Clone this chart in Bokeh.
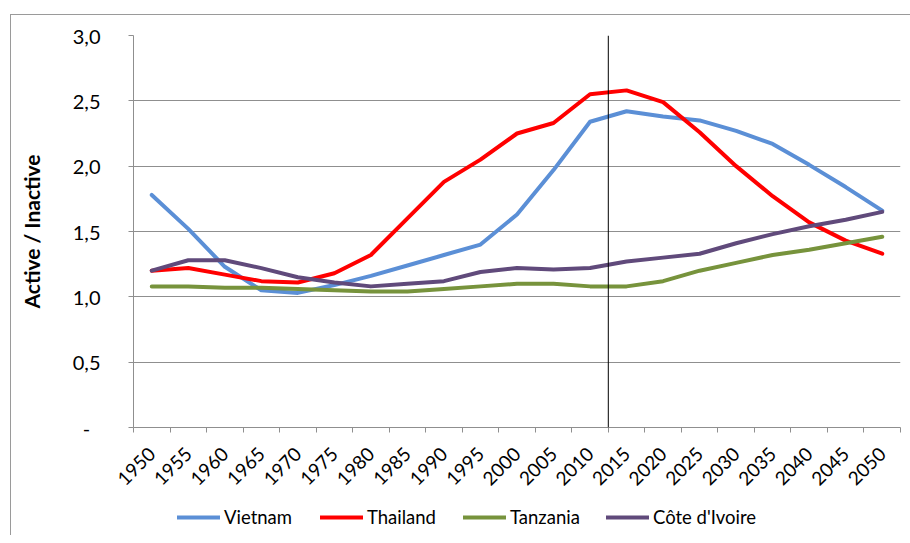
import math
from bokeh.plotting import figure
from bokeh.layouts import column
from bokeh.models import (Range1d, FixedTicker, CustomJSTickFormatter, Span,
                          Legend, LegendItem)
from bokeh.embed import file_html
from bokeh.resources import INLINE

years = [1950, 1955, 1960, 1965, 1970, 1975, 1980, 1985, 1990, 1995, 2000,
         2005, 2010, 2015, 2020, 2025, 2030, 2035, 2040, 2045, 2050]
vietnam = [1.78, 1.52, 1.23, 1.05, 1.03, 1.09, 1.16, 1.24, 1.32, 1.40, 1.63,
           1.97, 2.34, 2.42, 2.38, 2.35, 2.27, 2.17, 2.01, 1.84, 1.66]
thailand = [1.20, 1.22, 1.17, 1.12, 1.11, 1.18, 1.32, 1.60, 1.88, 2.05, 2.25,
            2.33, 2.55, 2.58, 2.49, 2.26, 2.00, 1.77, 1.57, 1.43, 1.33]
tanzania = [1.08, 1.08, 1.07, 1.07, 1.06, 1.05, 1.04, 1.04, 1.06, 1.08, 1.10,
            1.10, 1.08, 1.08, 1.12, 1.20, 1.26, 1.32, 1.36, 1.41, 1.46]
cote = [1.20, 1.28, 1.28, 1.22, 1.15, 1.11, 1.08, 1.10, 1.12, 1.19, 1.22,
        1.21, 1.22, 1.27, 1.30, 1.33, 1.41, 1.48, 1.54, 1.59, 1.65]
series_names = ["Vietnam", "Thailand", "Tanzania", "Côte d'Ivoire"]
series_colors = ["#5B8FD6", "#FF0000", "#77933C", "#604A7B"]
y_ticks = [0.0, 0.5, 1.0, 1.5, 2.0, 2.5, 3.0]
marker_year = 2012.5

FONT = "Lato"
GRAY = "#8f8f8f"
BORDER = "1px solid #9a9a9a"

all_series = [vietnam, thailand, tanzania, cote]

half = (years[1] - years[0]) / 2
p = figure(width=899, height=480, frame_width=766, frame_height=391,
           output_backend="svg", toolbar_location=None,
           x_range=Range1d(years[0] - half, years[-1] + half),
           y_range=Range1d(y_ticks[0], y_ticks[-1]),
           min_border_left=122, min_border_right=11, min_border_top=20,
           min_border_bottom=69)
p.styles = {"margin-left": "10px", "margin-top": "14px",
            "border-left": BORDER, "border-top": BORDER}
p.outline_line_color = None
p.background_fill_color = "white"
p.border_fill_color = "white"

for vals, col in zip(all_series, series_colors):
    p.line(years, vals, line_color=col, line_width=4, line_join="round",
           line_cap="round")

# x axis
xa = p.xaxis[0]
xa.ticker = FixedTicker(ticks=years,
                        minor_ticks=[y - half for y in years] + [years[-1] + half])
xa.major_tick_out = 0
xa.major_tick_in = 0
xa.minor_tick_out = 5
xa.minor_tick_in = 0
xa.minor_tick_line_color = GRAY
xa.axis_line_color = GRAY
xa.major_label_orientation = math.pi / 4
xa.major_label_standoff = 18
xa.major_label_text_font = FONT
xa.major_label_text_font_size = "19px"
xa.major_label_text_color = "#000000"
p.xgrid.visible = False

# y axis
ya = p.yaxis[0]
ya.ticker = FixedTicker(ticks=y_ticks, minor_ticks=[])
ya.formatter = CustomJSTickFormatter(
    code="return tick == 0 ? '-\\u00a0\\u00a0' : tick.toFixed(1).replace('.', ',');")
ya.major_tick_out = 5
ya.major_tick_in = 0
ya.major_tick_line_color = GRAY
ya.axis_line_color = GRAY
ya.major_label_standoff = 28
ya.major_label_text_font = FONT
ya.major_label_text_font_size = "20px"
ya.major_label_text_color = "#000000"
ya.axis_label = "Active / Inactive"
ya.axis_label_text_font = FONT
ya.axis_label_text_font_style = "bold"
ya.axis_label_text_font_size = "21px"
ya.axis_label_text_color = "#000000"
ya.axis_label_standoff = 26
p.ygrid.ticker = FixedTicker(ticks=y_ticks)
p.ygrid.grid_line_color = GRAY
p.ygrid.grid_line_width = 1

p.add_layout(Span(location=marker_year, dimension="height",
                  line_color="black", line_width=1))

# legend strip (separate figure below the chart); its series lie outside
# its ranges, so only their legend swatches show
lg = figure(width=899, height=40, frame_width=766, frame_height=40,
            output_backend="svg", toolbar_location=None,
            x_range=Range1d(0, 1), y_range=Range1d(0, 1),
            x_axis_location=None, y_axis_location=None,
            min_border_left=122, min_border_right=11, min_border_top=0,
            min_border_bottom=0)
lg.styles = {"margin-left": "10px", "border-left": BORDER}
lg.outline_line_color = None
lg.xgrid.visible = False
lg.ygrid.visible = False
proxies = [lg.line(years, vals, line_color=col, line_width=4, line_cap="round")
           for vals, col in zip(all_series, series_colors)]

legend = Legend(items=[LegendItem(label=n, renderers=[r])
                       for n, r in zip(series_names, proxies)],
                orientation="horizontal", location=(44, 7),
                background_fill_alpha=0, border_line_alpha=0,
                padding=0, margin=0, spacing=0,
                glyph_width=43, glyph_height=20, label_width=96,
                label_height=20, label_standoff=4,
                label_text_font=FONT, label_text_font_size="18.5px",
                label_text_color="#000000")
lg.add_layout(legend)

layout = column(p, lg, spacing=0)
open("out.html", "w").write(file_html(layout, INLINE))
